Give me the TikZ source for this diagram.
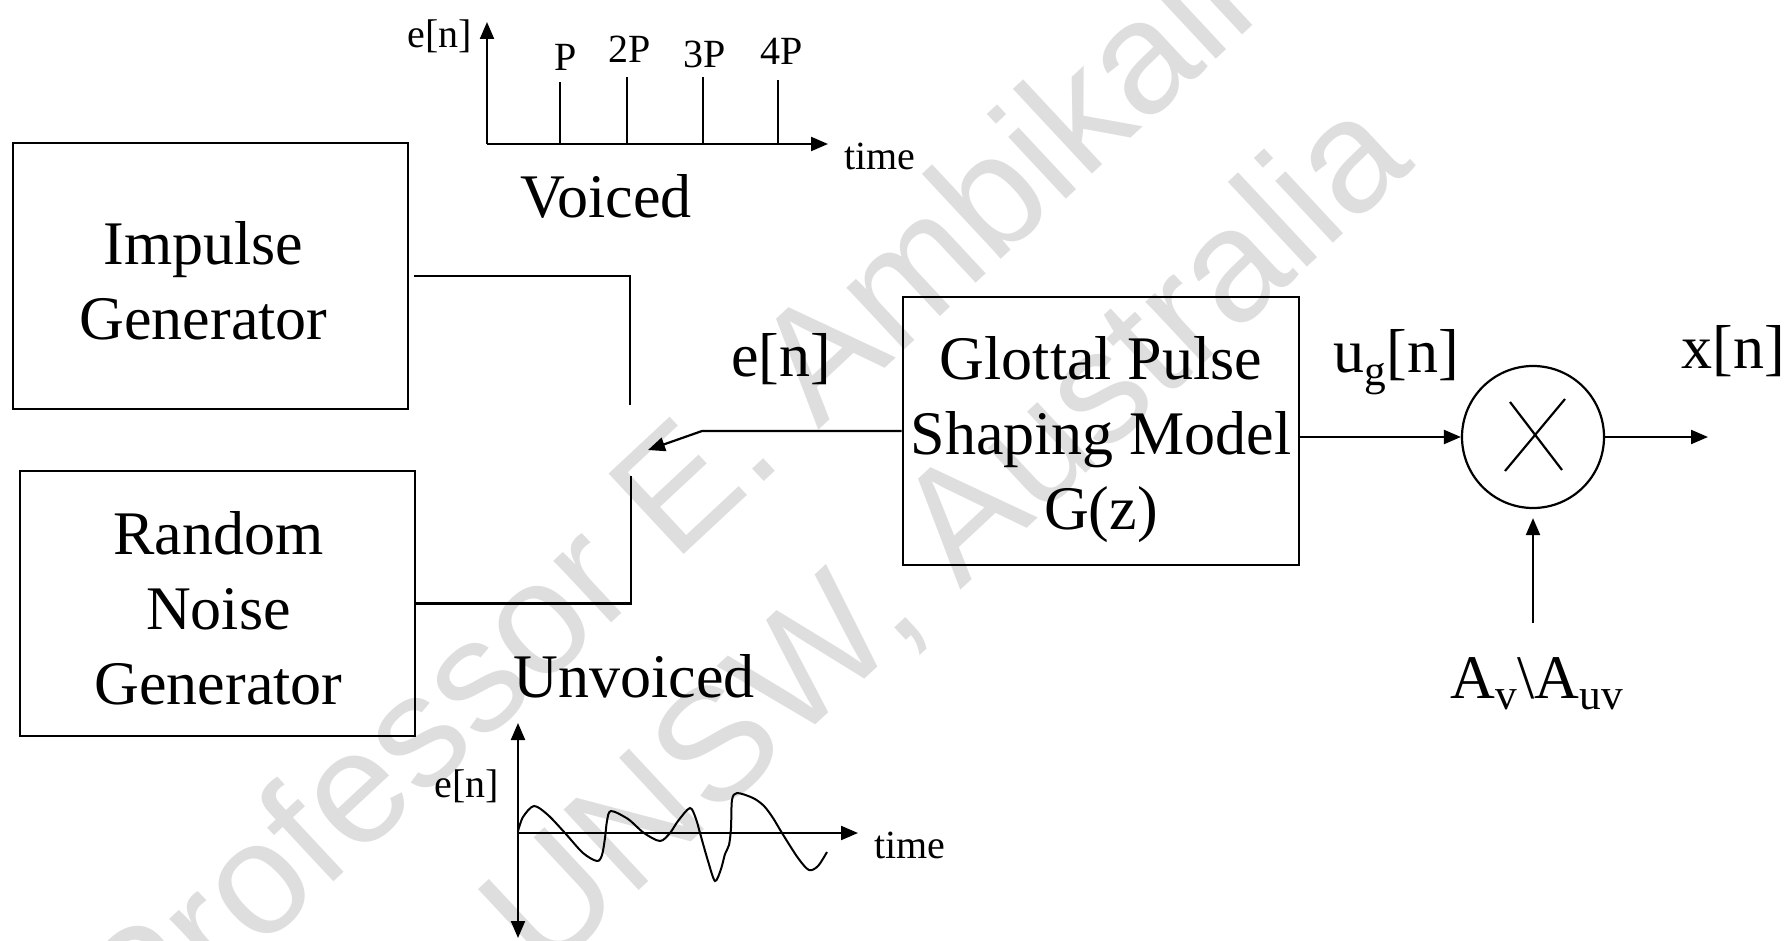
\documentclass[tikz,border=0pt]{standalone}
\usepackage{fontspec}
\setmainfont{Liberation Serif}
\newfontfamily\wmfont{Liberation Sans}
\usetikzlibrary{arrows.meta}
\definecolor{wmgray}{gray}{0.87}
\newcommand\bigtxt{\fontsize{62}{75}\selectfont}
\newcommand\smalltxt{\fontsize{40}{46}\selectfont}

\begin{document}
\begin{tikzpicture}[x=1pt,y=-1pt,line width=2.2pt,>={Triangle[length=17pt,width=14pt]},
  block/.style={draw,rectangle,line width=2.6pt,inner sep=0pt,minimum width=395pt,
                minimum height=266pt},
  boxtxt/.style={inner sep=0pt,align=center,font=\bigtxt},
  lbl/.style={anchor=base,inner sep=0pt,font=\bigtxt},
  tick/.style={anchor=base,inner sep=0pt,font=\smalltxt},
  wmark/.style={inner sep=0pt,rotate=43,text=wmgray,
                font={\wmfont\fontsize{160}{160}\selectfont}}]
  \useasboundingbox (0,0) rectangle (1790,941);
  % watermark behind everything
  \node[wmark] (wm1) at (790,400) {Professor E. Ambikairajah};
  \node[wmark] (wm2) at (948,537) {UNSW, Australia};

  % sources and filter
  \node[block] (impulse) at (210.5,276) {};
  \node[boxtxt] (impulsetxt) at (203.5,281) {Impulse\\Generator};
  \node[block,minimum height=265pt] (noise) at (217.5,603.5) {};
  \node[boxtxt] (noisetxt) at (218.5,608) {Random\\Noise\\Generator};
  \node[block,minimum width=396pt,minimum height=268pt] (glottal) at (1101,431) {};
  \node[boxtxt] (glottaltxt) at (1101,440) {Glottal Pulse\\Shaping Model\\G(z)};
  \node[draw,circle,minimum size=142pt,inner sep=0pt] (mult) at (1533,437) {};
  \draw ([shift={(-23,-35)}]mult.center) -- ([shift={(29,33)}]mult.center);
  \draw ([shift={(32,-38)}]mult.center) -- ([shift={(-28,34)}]mult.center);

  % voiced excitation
  \coordinate (vo) at (487,144);
  \coordinate (vy) at (487,22);
  \coordinate (vx) at (828,144);
  \draw[->] (vo) -- (vy);
  \draw[->] (vo) -- (vx);
  \foreach \x/\h in {560/82,627/77,703/77,778/80}
    \draw (\x,144) -- (\x,\h);
  \foreach \x/\y/\t in {566/71/P,630/63/2P,705/68/3P,782/65/4P}
    \node[tick] (lbl\t) at (\x,\y) {\t};
  \node[tick] (ven) at (440,48) {e[n]};
  \node[tick] (vtime) at (880,170) {time};
  \node[lbl] (voiced) at (606,218) {Voiced};

  % unvoiced excitation
  \node[lbl] (unvoiced) at (634,697) {Unvoiced};
  \coordinate (uo) at (518,833);
  \coordinate (uyt) at (518,723);
  \coordinate (uyb) at (518,938);
  \coordinate (ux) at (858,833);
  \draw[<->] (uyb) -- (uyt);
  \draw[->] (uo) -- (ux);
  \node[tick] (uen) at (467,797) {e[n]};
  \node[tick] (utime) at (910,858) {time};
  \begin{scope}[shift={(uo)}]
    \draw[line width=2pt] plot[smooth,tension=0.5] coordinates {(0,-2) (5,-16) (16,-27)
      (30,-18) (47,0) (65,20) (79,28) (84,22) (87,5) (89,-12) (93,-22) (110,-14)
      (126,0) (142,8) (152,0) (160,-12) (172,-25) (178,-14) (182,0) (190,28)
      (197,48) (203,36) (207,21) (211,12) (213,-5) (214,-33) (219,-40) (235,-35)
      (246,-27) (255,-15) (264,0) (280,25) (291,37) (300,33) (309,19)};
  \end{scope}

  % switch
  \coordinate (sw1) at (630,405);
  \coordinate (sw2) at (631,476);
  \coordinate (pivot) at (702,431);
  \coordinate (swtip) at (648,450);
  \draw[shorten <=5pt] (impulse.east) -| (sw1);
  \draw (noise.east) -| (sw2);
  \draw[->] (glottal.west) -- (pivot) -- (swtip);
  \node[lbl] (en) at (781,376) {e[n]};

  % output side
  \coordinate (xout) at (1708,437);
  \coordinate (gin) at (1533,623);
  \draw[->] (glottal.east |- mult) -- (mult.west);
  \draw[->] (mult.east) -- (xout);
  \draw[->,shorten >=9pt] (gin) -- (mult.south);
  \node[lbl] (ug) at (1396,372) {u\textsubscript{g}[n]};
  \node[lbl] (xn) at (1733,368) {x[n]};
  \node[lbl] (gain) at (1537,698) {A\textsubscript{v}\textbackslash A\textsubscript{uv}};
\end{tikzpicture}
\end{document}
